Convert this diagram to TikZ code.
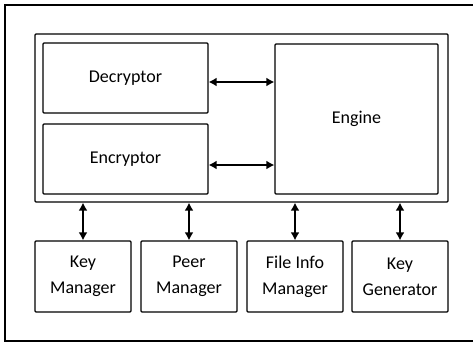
\documentclass[tikz,border=0pt]{standalone}
\usepackage{fontspec}
\setmainfont{Carlito}
\usetikzlibrary{arrows.meta}
\begin{document}
\begin{tikzpicture}[x=1pt,y=-1pt,
  box/.style={draw=black,line width=1.2pt,rounded corners=1pt,inner sep=0pt,
    align=center,font=\fontsize{18}{26}\selectfont},
  link/.style={line width=2.6pt,{Latex[length=8pt,width=9pt]}-{Latex[length=8pt,width=9pt]}}]
  \useasboundingbox (0,0) rectangle (473,343);
  % outer frame (right side runs past the page edge)
  \draw[line width=1.2pt] (474,5) -- (5,5) -- (5,341) -- (474,341);
  % module container
  \node[box,minimum width=413pt,minimum height=168pt] (cont) at (241.5,118) {};
  \node[box,minimum width=165pt,minimum height=70pt] (dec) at (125.5,78) {Decryptor};
  \node[box,minimum width=165pt,minimum height=70pt] (enc) at (125.5,159) {Encryptor};
  \node[box,minimum width=163pt,minimum height=150pt] (eng) at (356.5,119) {Engine};
  % managers
  \node[box,minimum width=96pt,minimum height=71pt] (km) at (83,276.5) {Key\\Manager};
  \node[box,minimum width=96pt,minimum height=71pt] (pm) at (189,276.5) {Peer\\Manager};
  \node[box,minimum width=96pt,minimum height=71pt] (fim) at (295,276.5) {File Info\\Manager};
  \node[box,minimum width=96pt,minimum height=71pt] (kg) at (400,276.5) {Key\\Generator};
  % connectors
  \coordinate (d1) at ([yshift=-4pt]dec.east);
  \coordinate (e1) at ([yshift=-6pt]enc.east);
  \draw[link] (d1) -- (d1 -| eng.west);
  \draw[link] (e1) -- (e1 -| eng.west);
  \foreach \n in {km,pm,fim,kg}
    \draw[link] (\n.north) -- (\n.north |- cont.south);
\end{tikzpicture}
\end{document}
